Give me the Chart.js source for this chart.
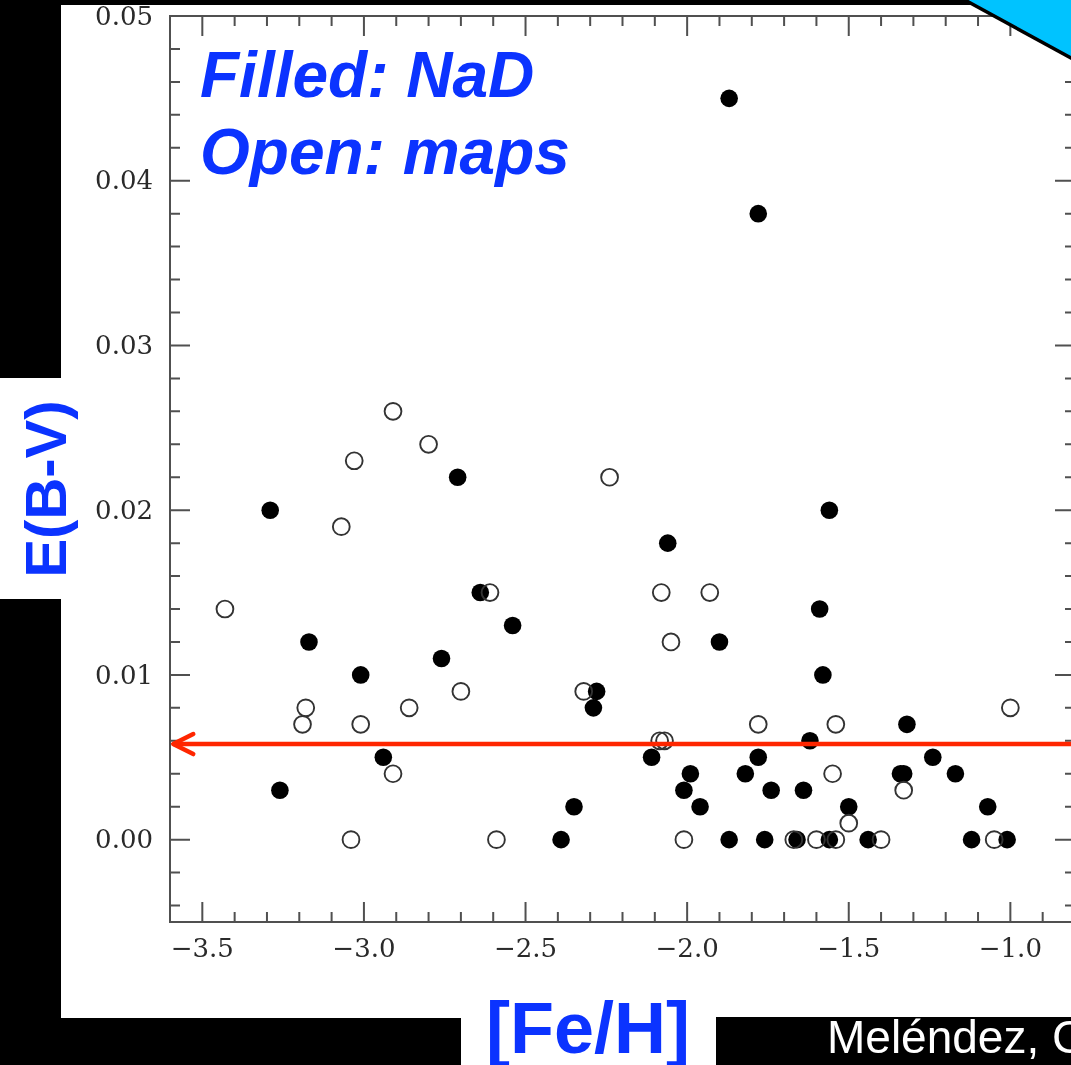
<!DOCTYPE html>
<html>
<head>
<meta charset="utf-8">
<script src="https://cdn.jsdelivr.net/npm/chart.js@4.4.1/dist/chart.umd.min.js"></script>
<style>
  html, body { margin:0; padding:0; background:#000; width:1071px; height:1065px; overflow:hidden; }
  #wrap { position:relative; width:1071px; height:1065px; overflow:hidden; }
  svg, canvas { position:absolute; left:0; top:0; }
  #over { pointer-events:none; }
</style>
</head>
<body>
<div id="wrap">
  <svg id="under" width="1071" height="1065">
    <rect x="0" y="0" width="1071" height="1065" fill="#000"/>
    <rect x="61" y="5" width="1010" height="1013" fill="#fff"/>
    <rect x="0" y="378" width="62" height="221" fill="#fff"/>
    <rect x="461" y="1017" width="255" height="48" fill="#fff"/>
    <rect x="716" y="1017" width="355" height="48" fill="#000"/>
  </svg>
  <canvas id="c" width="1100" height="1065"></canvas>
  <svg id="over" width="1071" height="1065">
    <g font-family="'Liberation Sans', Arial, Helvetica, sans-serif" fill="#0b33ff" font-weight="bold">
      <text x="200" y="97" font-size="64" font-style="italic">Filled: NaD</text>
      <text x="200" y="174" font-size="64" font-style="italic">Open: maps</text>
      <text transform="translate(66,489) rotate(-90)" font-size="58" text-anchor="middle">E(B-V)</text>
      <text x="588" y="1053" font-size="72" text-anchor="middle">[Fe/H]</text>
    </g>
    <text x="827" y="1053" font-family="'Liberation Sans', Arial, Helvetica, sans-serif" font-size="46" fill="#fff">Meléndez, C</text>
    <polygon points="964,0 1071,0 1071,57" fill="#00c3ff"/>
    <line x1="963" y1="-1" x2="1073" y2="59" stroke="#000" stroke-width="3.5"/>
  </svg>
</div>
<script>
// ---- data ----
const nadFeH = [-1.87,-1.78,-3.29,-2.71,-1.56,-2.06,-2.64,-2.54,-3.17,-1.90,-1.59,-1.58,-3.01,-2.76,-2.28,-2.29,-1.32,-1.62,-2.11,-1.78,-1.24,-2.94,-1.99,-1.82,-1.34,-1.33,-1.17,-2.01,-1.74,-1.64,-3.26,-2.35,-1.96,-1.50,-1.07,-2.39,-1.87,-1.76,-1.66,-1.56,-1.44,-1.12,-1.01];
const nadEBV = [0.045,0.038,0.020,0.022,0.020,0.018,0.015,0.013,0.012,0.012,0.014,0.010,0.010,0.011,0.009,0.008,0.007,0.006,0.005,0.005,0.005,0.005,0.004,0.004,0.004,0.004,0.004,0.003,0.003,0.003,0.003,0.002,0.002,0.002,0.002,0.000,0.000,0.000,0.000,0.000,0.000,0.000,0.000];
const mapsFeH = [-3.43,-2.91,-2.80,-3.03,-3.07,-2.24,-2.61,-2.08,-1.93,-2.05,-2.70,-2.32,-3.18,-3.19,-3.01,-2.86,-2.91,-1.00,-1.78,-1.54,-2.085,-2.07,-1.55,-1.33,-1.50,-3.04,-2.59,-2.01,-1.67,-1.60,-1.54,-1.40,-1.05];
const mapsEBV = [0.014,0.026,0.024,0.023,0.019,0.022,0.015,0.015,0.015,0.012,0.009,0.009,0.008,0.007,0.007,0.008,0.004,0.008,0.007,0.007,0.006,0.006,0.004,0.003,0.001,0.000,0.000,0.000,0.000,0.000,0.000,0.000,0.000];
const refLineFeH = [-3.59, -0.8];
const refLineEBV = [0.0058, 0.0058];
const xTickValues = [-3.5, -3.0, -2.5, -2.0, -1.5, -1.0];
const yTickValues = [0.00, 0.01, 0.02, 0.03, 0.04, 0.05];
const xRange = [-3.6, -0.8];
const yRange = [-0.005, 0.05];

const toPts = (xs, ys) => xs.map((v, i) => ({ x: v, y: ys[i] }));

const frameTicks = {
  id: 'frameTicks',
  beforeDatasetsDraw(chart) {
    const { ctx, chartArea: a, scales: { x, y } } = chart;
    ctx.save();
    ctx.strokeStyle = '#505050';
    ctx.lineWidth = 2;
    ctx.strokeRect(a.left, a.top, a.right - a.left, a.bottom - a.top);
    ctx.lineWidth = 2;
    ctx.beginPath();
    for (let i = -36; i <= -8; i++) {
      const px = x.getPixelForValue(i / 10);
      const L = (i % 5 === 0) ? 20 : 10;
      ctx.moveTo(px, a.bottom); ctx.lineTo(px, a.bottom - L);
      ctx.moveTo(px, a.top); ctx.lineTo(px, a.top + L);
    }
    for (let i = -2; i <= 25; i++) {
      const py = y.getPixelForValue(i * 0.002);
      const L = (i % 5 === 0) ? 20 : 10;
      ctx.moveTo(a.left, py); ctx.lineTo(a.left + L, py);
      ctx.moveTo(a.right, py); ctx.lineTo(a.right - L, py);
    }
    ctx.stroke();
    ctx.restore();
  },
  afterDatasetsDraw(chart) {
    const meta = chart.getDatasetMeta(2);
    const p = meta.data[0];
    if (!p) return;
    const ctx = chart.ctx;
    ctx.save();
    ctx.strokeStyle = '#ff2600';
    ctx.lineWidth = 4.5;
    ctx.lineCap = 'round';
    ctx.lineJoin = 'round';
    ctx.beginPath();
    ctx.moveTo(p.x + 20, p.y - 10);
    ctx.lineTo(p.x, p.y);
    ctx.lineTo(p.x + 20, p.y + 10);
    ctx.stroke();
    ctx.restore();
  }
};

const tickFont = { family: "'DejaVu Serif', serif", size: 26 };

new Chart(document.getElementById('c'), {
  type: 'scatter',
  data: {
    datasets: [
      {
        label: 'NaD', data: toPts(nadFeH, nadEBV), order: 2,
        backgroundColor: '#000', borderColor: '#000', borderWidth: 0, pointRadius: 8.8
      },
      {
        label: 'maps', data: toPts(mapsFeH, mapsEBV), order: 1,
        backgroundColor: 'rgba(0,0,0,0)', borderColor: '#333', borderWidth: 1.9, pointRadius: 8.4
      },
      {
        type: 'line', label: 'ref', data: toPts(refLineFeH, refLineEBV), order: 0,
        borderColor: '#ff2600', borderWidth: 4.5, pointRadius: 0, fill: false, showLine: true
      }
    ]
  },
  options: {
    responsive: false,
    animation: false,
    events: [],
    layout: { padding: { top: 16, right: 25, left: 0, bottom: 0 } },
    plugins: { legend: { display: false }, tooltip: { enabled: false } },
    scales: {
      x: {
        type: 'linear', min: xRange[0], max: xRange[1],
        grid: { display: false, drawTicks: false },
        border: { display: false },
        afterBuildTicks: s => { s.ticks = xTickValues.map(v => ({ value: v })); },
        afterFit: s => { s.height = 143; s.paddingLeft = 0; s.paddingRight = 0; },
        ticks: {
          color: '#2a2a2a', font: tickFont, padding: 13, maxRotation: 0, autoSkip: false,
          callback: v => Number(v).toFixed(1).replace('-', '\u2212')
        }
      },
      y: {
        type: 'linear', min: yRange[0], max: yRange[1],
        grid: { display: false, drawTicks: false },
        border: { display: false },
        afterBuildTicks: s => { s.ticks = yTickValues.map(v => ({ value: v })); },
        afterFit: s => { s.width = 170; s.paddingTop = 0; s.paddingBottom = 0; },
        ticks: {
          color: '#2a2a2a', font: tickFont, padding: 17, autoSkip: false, labelOffset: 2,
          callback: v => Number(v).toFixed(2)
        }
      }
    }
  },
  plugins: [frameTicks]
});
</script>
</body>
</html>
